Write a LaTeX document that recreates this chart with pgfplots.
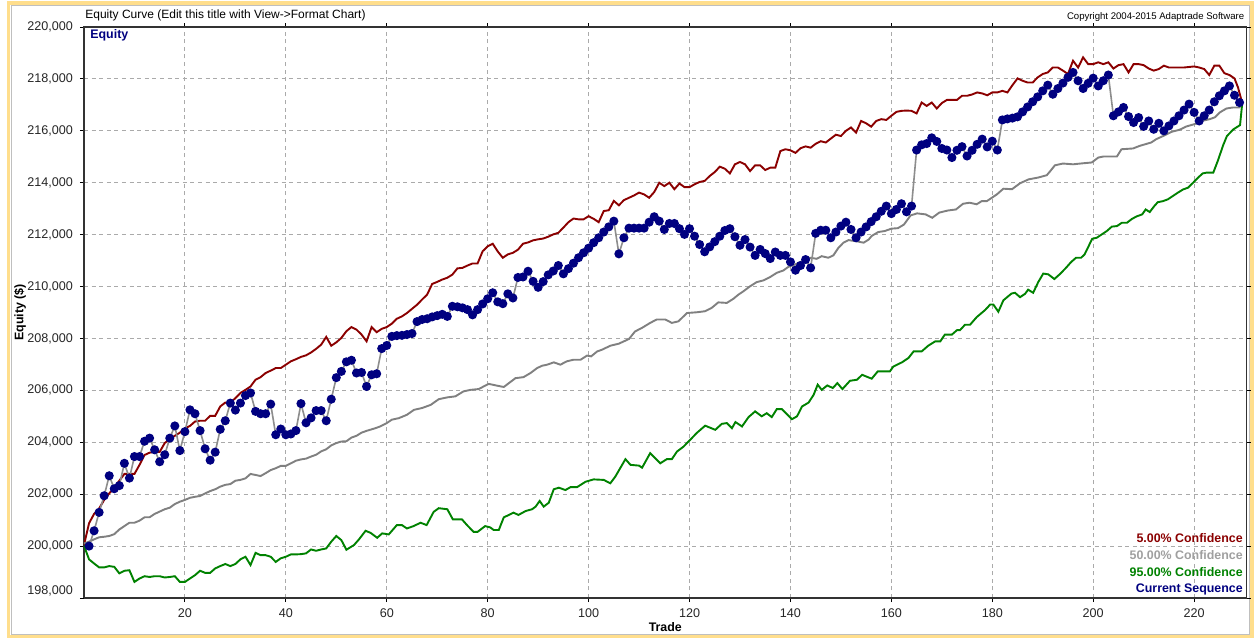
\documentclass[border=0pt]{standalone}
\usepackage{fontspec}
\setmainfont{Liberation Sans}
\usepackage{pgfplots}
\usepackage{pgfplotstable}
\pgfplotsset{compat=1.18}
\definecolor{cRed}{RGB}{139,0,0}
\definecolor{cGray}{RGB}{128,128,128}
\definecolor{cGreen}{RGB}{0,130,0}
\definecolor{cNavy}{RGB}{0,0,128}
\definecolor{cGrid}{RGB}{170,170,170}
\definecolor{cFrame}{RGB}{255,222,140}
\definecolor{cLeg50}{RGB}{160,160,160}

\pgfplotstableread{
x y
1 200000
2 200590
3 201300
4 201940
5 202710
6 202210
7 202330
8 203190
9 202620
10 203450
11 203450
12 204040
13 204160
14 203710
15 203250
16 203520
17 204160
18 204630
19 203680
20 204410
21 205250
22 205100
23 204450
24 203750
25 203310
26 203620
27 204500
28 204830
29 205510
30 205240
31 205510
32 205800
33 205900
34 205190
35 205100
36 205100
37 205470
38 204290
39 204510
40 204290
41 204320
42 204450
43 205490
44 204750
45 204940
46 205220
47 205220
48 204830
49 205660
50 206490
51 206730
52 207100
53 207160
54 206670
55 206690
56 206150
57 206600
58 206640
59 207610
60 207730
61 208080
62 208110
63 208120
64 208150
65 208190
66 208650
67 208730
68 208760
69 208830
70 208880
71 208930
72 208850
73 209240
74 209220
75 209180
76 209110
77 208910
78 209110
79 209330
80 209530
81 209760
82 209410
83 209340
84 209720
85 209560
86 210350
87 210370
88 210590
89 210200
90 209970
91 210190
92 210450
93 210600
94 210810
95 210490
96 210690
97 210900
98 211110
99 211300
100 211480
101 211690
102 211880
103 212100
104 212300
105 212520
106 211260
107 211880
108 212250
109 212250
110 212250
111 212250
112 212480
113 212690
114 212520
115 212200
116 212430
117 212430
118 212230
119 212010
120 212230
121 211940
122 211620
123 211340
124 211530
125 211730
126 211940
127 212160
128 212230
129 211920
130 211590
131 211810
132 211520
133 211200
134 211430
135 211270
136 211080
137 211330
138 211200
139 211200
140 210950
141 210630
142 210810
143 211040
144 210720
145 212050
146 212170
147 212170
148 211880
149 212100
150 212330
151 212480
152 212200
153 211880
154 212100
155 212300
156 212500
157 212690
158 212900
159 213100
160 212810
161 212970
162 213190
163 212880
164 213100
165 215260
166 215460
167 215510
168 215730
169 215590
170 215320
171 215260
172 214970
173 215250
174 215390
175 215030
176 215250
177 215480
178 215680
179 215380
180 215600
181 215260
182 216420
183 216460
184 216490
185 216540
186 216730
187 216920
188 217120
189 217310
190 217540
191 217760
192 217410
193 217630
194 217840
195 218060
196 218250
197 217930
198 217630
199 217830
200 218030
201 217730
202 217930
203 218150
204 216580
205 216730
206 216900
207 216550
208 216320
209 216510
210 216170
211 216380
212 216060
213 216290
214 216000
215 216190
216 216380
217 216580
218 216800
219 217030
220 216710
221 216380
222 216580
223 216800
224 217120
225 217350
226 217540
227 217730
228 217370
229 217090
}\curseq

\pgfplotstableread{
x y
0 200040
1 200880
2 201240
3 201450
4 201780
5 202030
6 202250
7 202520
8 202780
9 202780
10 202780
11 203130
12 203510
13 203600
14 203630
15 203630
16 203970
17 204120
18 204250
19 204370
20 204540
21 204630
22 204800
23 204830
24 204830
25 205020
26 205020
27 205380
28 205530
29 205530
30 205700
31 205900
32 206020
33 206150
34 206410
35 206510
36 206670
37 206760
38 206860
39 206860
40 206990
41 207120
42 207200
43 207290
44 207350
45 207460
46 207600
47 207760
48 208060
49 207720
50 207850
51 208020
52 208280
53 208440
54 208340
55 208150
56 207890
57 208440
58 208240
59 208370
60 208440
61 208570
62 208760
63 208850
64 208980
65 209140
66 209300
67 209500
68 209690
69 210100
70 210180
71 210270
72 210340
73 210460
74 210700
75 210720
76 210810
77 210890
78 210890
79 211360
80 211550
81 211650
82 211350
83 211110
84 211240
85 211300
86 211420
87 211650
88 211700
89 211780
90 211820
91 211850
92 211920
93 212010
94 212070
95 212270
96 212480
97 212620
98 212590
99 212590
100 212710
101 212610
102 212480
103 212910
104 212940
105 213300
106 213130
107 213330
108 213420
109 213510
110 213620
111 213550
112 213420
113 213640
114 214000
115 213870
116 214000
117 213750
118 213970
119 213830
120 213830
121 213940
122 214030
123 214070
124 214260
125 214410
126 214620
127 214540
128 214360
129 214710
130 214800
131 214710
132 214450
133 214670
134 214670
135 214490
136 214580
137 214580
138 215220
139 215290
140 215250
141 215150
142 215330
143 215400
144 215350
145 215500
146 215600
147 215550
148 215700
149 215850
150 215800
151 216000
152 216130
153 215930
154 216380
155 216290
156 216160
157 216380
158 216450
159 216420
160 216580
161 216730
162 216770
163 216780
164 216770
165 216670
166 217090
167 216960
168 217090
169 216860
170 217070
171 217190
172 217190
173 217190
174 217350
175 217350
176 217400
177 217480
178 217440
179 217370
180 217480
181 217480
182 217540
183 217480
184 217760
185 218020
186 217930
187 217860
188 217860
189 218060
190 218190
191 218250
192 218440
193 218440
194 218320
195 218190
196 218700
197 218440
198 218830
199 218570
200 218570
201 218640
202 218570
203 218640
204 218400
205 218530
206 218570
207 218250
208 218570
209 218570
210 218530
211 218400
212 218320
213 218380
214 218510
215 218440
216 218440
217 218440
218 218440
219 218460
220 218480
221 218440
222 218380
223 218150
224 218510
225 218510
226 218220
227 218150
228 218020
228.7 217670
229.5 217090
}\conffive

\pgfplotstableread{
x y
0 200100
1 200170
2 200260
3 200340
4 200360
5 200390
6 200460
7 200640
8 200770
9 200900
10 200900
11 200980
12 201110
13 201110
14 201240
15 201330
16 201420
17 201480
18 201620
19 201710
20 201780
21 201860
22 201900
23 201930
24 202030
25 202120
26 202190
27 202290
28 202360
29 202390
30 202520
31 202550
32 202610
33 202780
34 202740
35 202700
36 202810
37 202930
38 203000
39 203090
40 203090
41 203190
42 203290
43 203340
44 203370
45 203450
46 203520
47 203650
48 203730
49 203880
50 203970
51 204030
52 204040
53 204180
54 204250
55 204370
56 204440
57.7 204540
58.7 204610
60 204740
61 204870
62.4 204930
64 205060
65.4 205250
67 205320
68.7 205440
70.3 205660
72 205730
73.6 205770
75.2 205960
76.6 206020
78.2 206050
79.2 206150
80.2 206250
81.9 206180
83.2 206130
84.2 206280
85.5 206470
87.1 206510
88.5 206670
89.8 206860
90.8 206950
91.8 206990
93.1 207080
94.4 206990
95.7 207120
97 207180
98.4 207180
99.7 207340
100.5 207310
101.7 207500
102.7 207570
104.3 207720
106 207800
108 207980
109.2 208270
110.6 208410
112.2 208600
113.5 208730
115.2 208730
116.5 208600
117.8 208660
119.5 208980
121.5 209010
123.1 209050
124.4 209180
125.7 209390
127.4 209370
128.7 209530
129.7 209690
130.7 209820
132 210010
133.3 210170
134.7 210240
136 210370
137.3 210530
138.6 210620
139.6 210760
140.9 210850
142.6 211000
143.9 211110
145.2 211070
146.2 211170
147.5 211110
148.5 211200
149.5 211490
150.5 211690
151.5 211790
153.2 211740
154.5 211690
155.5 211810
156.1 211950
157.4 212100
158.7 212140
160 212230
161.3 212250
162.5 212390
163.8 212740
165.1 212820
166.8 212780
168.1 212650
169.5 212850
171.2 212930
172.8 212970
174.2 213190
175.5 213230
176.9 213170
177.9 213290
178.9 213290
180.9 213550
182.2 213770
183.9 213750
185.5 213980
187.2 214130
189.1 214200
190.8 214290
191.5 214450
192.4 214670
194 214740
196 214710
198 214750
199.7 214780
201 214970
202 215010
204.7 215010
205.6 215290
207.9 215320
209.2 215420
211.5 215550
212.5 215680
214.2 215830
215.5 215960
217.1 216040
218.5 216170
220.1 216260
221.5 216380
223.1 216450
224.1 216520
225.1 216710
226.4 216860
227.7 216900
228.9 216900
229.5 217000
}\conffifty

\pgfplotstableread{
x y
0 200010
1 199490
2 199330
3 199180
4 199180
5 199230
6 199200
7 198950
8 199050
9 199070
10 198620
11 198750
12 198840
13 198810
14 198840
15 198840
16 198790
17 198810
18 198840
19 198620
20 198620
21 198750
22 198880
23 199050
24 198970
25 198970
26 199140
27 199230
28 199310
29 199230
30 199310
31 199490
32 199590
33 199270
34 199740
35 199650
36 199650
37 199590
38 199390
39 199530
40 199590
41 199680
42 199680
43 199690
44 199720
45 199870
46 199820
47 199870
48 199910
49 200170
50 200390
51 200230
52 199860
53.5 200040
54.5 200260
55.8 200590
56.8 200510
58.1 200320
59.1 200490
60.4 200450
62 200810
63 200810
64 200680
65.3 200770
66.7 200900
67.9 200810
69.3 201320
70.3 201460
72 201420
73.1 201030
74.9 201030
75.9 200810
77.2 200550
78 200550
79.5 200770
80.5 200720
81.2 200620
82.2 200620
83.2 201110
84.2 201200
85.1 201290
86.1 201200
87.5 201350
88.8 201420
89.5 201520
90.3 201740
91.1 201520
92.1 201670
93.1 202190
94.1 202250
95.4 202160
96.4 202270
97.7 202270
99.4 202480
101 202570
103 202550
104.3 202420
105.3 202680
107.3 203350
108.3 203130
110 203100
110.6 203020
112.2 203580
114.2 203190
115.5 203350
116.5 203350
117.5 203640
118.8 203830
120.1 204090
121.5 204370
123.1 204640
125.1 204480
126.4 204710
127.4 204740
128.4 204540
129.1 204780
130.4 204610
131.7 204970
133 205190
134.3 205000
135.3 205120
136.3 204970
137.3 205280
138.3 205280
140.3 204890
141.3 205000
142.3 205380
143.6 205530
144.6 205830
145.4 206220
146.2 206020
147.3 206190
148.4 206090
149.3 206280
150.3 206050
151.8 206370
153.2 206410
154.2 206600
156.1 206450
157.3 206730
159.7 206730
160.4 206920
162.1 207080
163.4 207250
164.4 207500
166 207500
167.3 207720
168.7 207890
169.7 207890
170.6 208150
172 208150
173 208320
173.6 208320
174.6 208530
175.6 208530
176.9 208820
178.6 209100
179.6 209310
180.2 209310
181.2 209030
182.2 209470
183.8 209730
184.5 209760
185.5 209590
186.5 209720
187.1 209880
188.1 209760
189.1 210170
190.1 210500
191.1 210470
192.3 210290
193.4 210480
194.6 210720
195.6 210940
196.6 211110
197.6 211110
198.3 211240
199.1 211560
199.8 211840
200.7 211880
201.7 212010
202.7 212140
203.7 212310
204.7 212330
205.7 212460
206.7 212460
207.7 212610
208.7 212710
209.7 212780
210.4 212970
211.2 212870
212.1 213100
212.8 213250
213.8 213290
214.8 213360
215.8 213490
216.8 213620
217.8 213740
218.8 213810
219.8 214000
220.8 214200
221.7 214360
222.5 214390
223.8 214390
224.8 214900
225.7 215420
226.5 215800
227.8 216060
229.1 216220
229.5 217000
}\confninetyfive

\begin{document}
\begin{tikzpicture}
\useasboundingbox (0,0) rectangle (627pt,319.5pt);
\fill[white] (0,0) rectangle (627pt,319.5pt);
\draw[cFrame, line width=1.6pt] (4.3pt,1.3pt) rectangle (626pt,318pt);
\draw[black!25, line width=0.5pt] (5.5pt,2.5pt) rectangle (624.8pt,316.8pt);
\begin{axis}[
  scale only axis,
  width=581.3pt, height=285.5pt,
  at={(42pt,20.5pt)}, anchor=south west,
  xmin=0, xmax=230.4, ymin=198000, ymax=220000,
  xtick={20,40,...,220},
  ytick={200000,202000,...,220000},
  extra y ticks={198000},
  extra y tick style={grid=none, yticklabel style={yshift=3.5pt}},
  grid=major,
  major grid style={cGrid, dash pattern=on 2pt off 1.8pt, line width=0.45pt},
  axis line style={black!80, line width=0.8pt},
  tick align=outside, major tick length=2pt,
  tick style={black, line width=0.5pt},
  scaled y ticks=false,
  /pgf/number format/assume math mode=true,
  /pgf/number format/fixed,
  /pgf/number format/1000 sep={,},
  ticklabel style={font=\fontsize{6.3}{7.5}\selectfont, text=black!85},
  xlabel={Trade}, ylabel={Equity (\$)},
  every axis x label/.style={at={(axis description cs:0.5,0)}, yshift=-14.5pt, anchor=center, font=\bfseries\fontsize{6.2}{7.5}\selectfont},
  every axis y label/.style={at={(axis description cs:0,0.5)}, xshift=-32pt, rotate=90, anchor=center, font=\bfseries\fontsize{6.2}{7.5}\selectfont},
  legend style={at={(axis description cs:1,0)}, anchor=south east, draw=none, fill=none,
    font=\bfseries\fontsize{6.2}{7}\selectfont, row sep=0.1pt, inner sep=0pt,
    nodes={inner sep=1.15pt}, xshift=-0.6pt, yshift=-0.3pt},
  legend cell align=right,
  legend image code/.code={},
]
\addplot[cRed, line width=0.95pt] table {\conffive};
\addlegendentry{\textcolor{cRed}{5.00\% Confidence}}
\addplot[cGray, line width=0.95pt] table {\conffifty};
\addlegendentry{\textcolor{cLeg50}{50.00\% Confidence}}
\addplot[cGreen, line width=0.95pt] table {\confninetyfive};
\addlegendentry{\textcolor{cGreen}{95.00\% Confidence}}
\addplot[cGray!90, line width=0.8pt, mark=*, mark size=1.85pt, mark options={fill=cNavy, draw=cNavy}] table {\curseq};
\addlegendentry{\textcolor{cNavy}{Current Sequence}}
\end{axis}
\node[anchor=west, font=\fontsize{6}{7}\selectfont, inner sep=0pt] at (42.5pt,312pt) {Equity Curve (Edit this title with View->Format Chart)};
\node[anchor=east, font=\fontsize{4.8}{6}\selectfont, inner sep=0pt] at (622.3pt,311pt) {Copyright 2004-2015 Adaptrade Software};
\node[anchor=west, font=\bfseries\fontsize{6.2}{7}\selectfont, text=cNavy, inner sep=0pt] at (45pt,302pt) {Equity};
\end{tikzpicture}
\end{document}
